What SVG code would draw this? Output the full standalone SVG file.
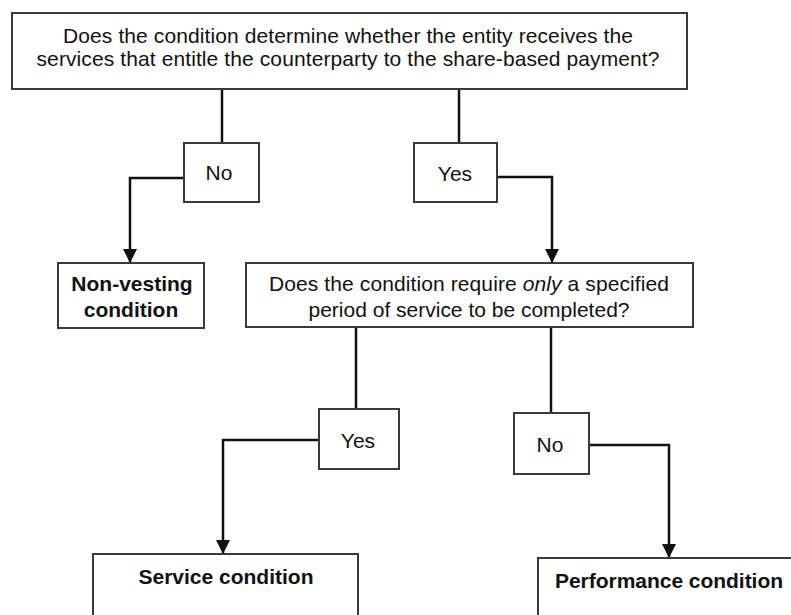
<svg xmlns="http://www.w3.org/2000/svg" width="791" height="615" viewBox="0 0 791 615">
<defs>
<style>
.box{fill:#fff;stroke:#3a3a3a;stroke-width:2}
.t{font-family:"Liberation Sans",Arial,sans-serif;font-size:21px;fill:#111;text-anchor:middle}
.b{font-weight:bold}
.c{fill:none;stroke:#111;stroke-width:2.5}
</style>
<marker id="ah" markerWidth="14" markerHeight="14" viewBox="0 0 14 14" refX="14" refY="7" orient="auto" markerUnits="userSpaceOnUse">
<path d="M0,0 L14,7 L0,14 Z" fill="#111"/>
</marker>
</defs>
<rect width="791" height="615" fill="#fff"/>
<g id="connectors">
<line class="c" x1="222" y1="89" x2="222" y2="143"/>
<line class="c" x1="459" y1="89" x2="459" y2="143"/>
<polyline class="c" points="184,178 130,178 130,263" marker-end="url(#ah)"/>
<polyline class="c" points="497,177 552,177 552,263" marker-end="url(#ah)"/>
<line class="c" x1="356" y1="327" x2="356" y2="409"/>
<line class="c" x1="551" y1="327" x2="551" y2="413"/>
<polyline class="c" points="319,440 223,440 223,554" marker-end="url(#ah)"/>
<polyline class="c" points="589,445 669,445 669,558" marker-end="url(#ah)"/>
</g>
<g id="q1">
<rect class="box" x="12" y="13" width="675" height="76"/>
<text class="t" x="348" y="43" textLength="570" lengthAdjust="spacing">Does the condition determine whether the entity receives the</text>
<text class="t" x="348" y="66" textLength="623" lengthAdjust="spacing">services that entitle the counterparty to the share-based payment?</text>
</g>
<g id="no1">
<rect class="box" x="184" y="143" width="75" height="59"/>
<text class="t" x="219" y="180">No</text>
</g>
<g id="yes1">
<rect class="box" x="414" y="143" width="83" height="59"/>
<text class="t" x="455" y="181">Yes</text>
</g>
<g id="nonvesting">
<rect class="box" x="58" y="263" width="146" height="65"/>
<text class="t b" x="132" y="291">Non-vesting</text>
<text class="t b" x="131" y="317">condition</text>
</g>
<g id="q2">
<rect class="box" x="246" y="263" width="447" height="64"/>
<text class="t" x="469" y="291" textLength="400" lengthAdjust="spacing">Does the condition require <tspan font-style="italic">only</tspan> a specified</text>
<text class="t" x="469" y="317" textLength="321" lengthAdjust="spacing">period of service to be completed?</text>
</g>
<g id="yes2">
<rect class="box" x="319" y="409" width="80" height="60"/>
<text class="t" x="358" y="448">Yes</text>
</g>
<g id="no2">
<rect class="box" x="514" y="413" width="75" height="61"/>
<text class="t" x="550" y="452">No</text>
</g>
<g id="service">
<rect class="box" x="93" y="554" width="265" height="80"/>
<text class="t b" x="226" y="584">Service condition</text>
</g>
<g id="performance">
<rect class="box" x="538" y="558" width="300" height="80"/>
<text class="t b" x="669" y="588" textLength="228" lengthAdjust="spacing">Performance condition</text>
</g>
</svg>
